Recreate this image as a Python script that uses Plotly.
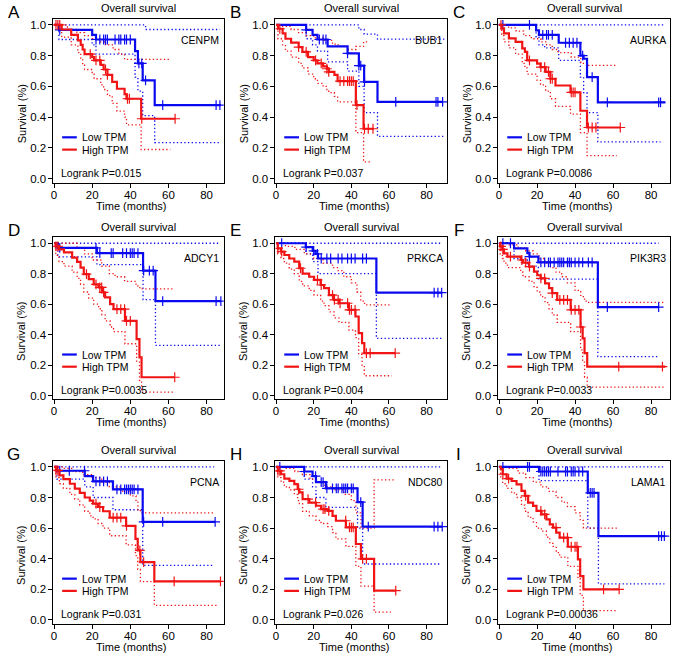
import plotly.graph_objects as go

# ---------------- data ----------------
genes = ["CENPM", "BUB1", "AURKA", "ADCY1", "PRKCA", "PIK3R3", "PCNA", "NDC80", "LAMA1"]
letters = ["A", "B", "C", "D", "E", "F", "G", "H", "I"]
pvalues = ["0.015", "0.037", "0.0086", "0.0035", "0.004", "0.0033", "0.031", "0.026", "0.00036"]
x_ticks = [0, 20, 40, 60, 80]
y_ticks = [0.0, 0.2, 0.4, 0.6, 0.8, 1.0]

# each curve: [time, survival] step points (value holds from that time on)
A_low = [[0,1],[2.6,0.967],[20,0.935],[22,0.905],[42.5,0.83],[44,0.75],[46.5,0.64],[52.8,0.478],[87.5,0.478]]
A_low_up = [[0,1],[48,0.97],[87,0.97]]
A_low_lo = [[0,1],[2.6,0.905],[20,0.87],[22,0.81],[42.5,0.66],[44,0.57],[46.5,0.41],[52.8,0.235],[87,0.235]]
A_low_cens = [3,22,24,26,27,28,32,34,35,37,38,40,44.5,46,48,57,85,87]
A_high = [[0,1],[4,0.97],[9,0.935],[12.5,0.9],[14,0.87],[15,0.84],[16,0.81],[20,0.79],[21,0.77],[24.5,0.74],[26,0.71],[28,0.675],[30.5,0.63],[33,0.585],[37,0.55],[38,0.52],[45.7,0.39],[63.5,0.39]]
A_high_up = [[0,1],[7,0.97],[12,0.95],[16,0.93],[20,0.91],[24,0.89],[27,0.87],[31,0.84],[34,0.81],[37,0.776],[60.5,0.776]]
A_high_lo = [[0,1],[4,0.92],[9,0.87],[12.5,0.82],[14,0.78],[15,0.74],[16,0.71],[20,0.68],[21,0.65],[24.5,0.61],[26,0.58],[28,0.54],[30.5,0.49],[33,0.44],[37,0.4],[38,0.35],[45.7,0.19],[61,0.19]]
A_high_cens = [1,2,3,19,22,24,27,28,38.5,39.5,46,63.5]

B_low = [[0,1],[16,0.967],[19.4,0.935],[22,0.905],[27.4,0.86],[38,0.815],[44,0.735],[46.8,0.63],[53.9,0.5],[88.5,0.5]]
B_low_up = [[0,1],[44,0.97],[46.8,0.94],[53.9,0.907],[90,0.907]]
B_low_lo = [[0,1],[16,0.91],[19.4,0.87],[22,0.83],[27.4,0.76],[38,0.7],[44,0.6],[46.8,0.43],[53.9,0.275],[90,0.275]]
B_low_cens = [16,23,25,26.5,38,44,45,47,63.6,85,86,88.5]
B_high = [[0,1],[1,0.975],[3.5,0.945],[5,0.91],[8,0.885],[12,0.855],[14,0.825],[17,0.79],[20,0.77],[22,0.75],[25,0.73],[27,0.715],[28,0.695],[31,0.675],[32.7,0.635],[42.4,0.478],[46.5,0.325],[52,0.325]]
B_high_up = [[0,1],[3,0.99],[8,0.97],[12,0.95],[16,0.93],[20,0.915],[25,0.9],[30,0.875],[33,0.86],[38,0.84],[42.4,0.86],[46.5,0.89],[49.5,0.89]]
B_high_lo = [[0,1],[1,0.91],[3.5,0.87],[5,0.83],[8,0.79],[12,0.75],[14,0.72],[17,0.68],[20,0.65],[22,0.62],[25,0.6],[27,0.58],[28,0.56],[31,0.535],[32.7,0.5],[42.4,0.3],[46.5,0.11],[50,0.11]]
B_high_cens = [2,12,16,21,24,27,28,34,36,38,39,40,41,43,47,49,51.5]

C_low = [[0,1],[19.5,0.965],[21,0.935],[31.4,0.884],[42.8,0.8],[44.5,0.78],[46.3,0.66],[52,0.497],[87.5,0.497]]
C_low_up = [[0,1],[87,1]]
C_low_lo = [[0,1],[19.5,0.92],[21,0.87],[24,0.85],[31.4,0.77],[42.8,0.66],[44.5,0.56],[46.3,0.43],[52,0.24],[85,0.24]]
C_low_cens = [2,16,23,25,26,28,35,37,39,41,44,49,57,84,85]
C_high = [[0,1],[1.4,0.978],[2.6,0.945],[5.2,0.912],[8.7,0.89],[12.2,0.847],[13.6,0.825],[14.8,0.77],[20,0.748],[21.8,0.726],[24.5,0.694],[27,0.65],[29.7,0.606],[37.6,0.562],[42.8,0.442],[46.3,0.333],[63.8,0.333]]
C_high_up = [[0,1],[5,0.98],[9,0.96],[13,0.93],[17,0.91],[22,0.89],[25,0.87],[28,0.84],[31,0.82],[38,0.79],[43,0.75],[46.3,0.737],[62,0.737]]
C_high_lo = [[0,1],[1.4,0.93],[2.6,0.89],[5.2,0.85],[8.7,0.81],[12.2,0.75],[13.6,0.72],[14.8,0.68],[20,0.64],[21.8,0.61],[24.5,0.57],[27,0.52],[29.7,0.47],[37.6,0.42],[42.8,0.3],[46.3,0.15],[62,0.15]]
C_high_cens = [1,16,22,24,26,27,28,38,39,40,47,49,51,63.8]

D_low = [[0,1],[2,0.97],[22.5,0.935],[46.7,0.82],[53.2,0.62],[87.5,0.62]]
D_low_up = [[0,1],[87,1]]
D_low_lo = [[0,1],[2,0.91],[22.5,0.86],[46.7,0.63],[53.2,0.33],[87,0.33]]
D_low_cens = [3,22,24,30,31,36,38,40,41,42,44,47,50,52,57,85,87.5]
D_high = [[0,1],[0.9,0.98],[2.6,0.96],[5.2,0.94],[9.5,0.906],[12.1,0.878],[13.9,0.84],[15.6,0.797],[18.2,0.764],[20.8,0.73],[23.4,0.71],[25.1,0.677],[26.8,0.644],[29.4,0.6],[31.2,0.568],[37.2,0.49],[43.3,0.37],[44.8,0.25],[45.9,0.12],[63.3,0.12]]
D_high_up = [[0,1],[12,0.97],[16,0.93],[20,0.89],[25,0.85],[29,0.8],[32,0.78],[37,0.75],[43,0.72],[45,0.7],[63,0.7]]
D_high_lo = [[0,1],[0.9,0.92],[2.6,0.88],[5.2,0.85],[9.5,0.81],[12.1,0.77],[13.9,0.73],[15.6,0.68],[18.2,0.64],[20.8,0.6],[23.4,0.57],[25.1,0.53],[26.8,0.49],[29.4,0.45],[31.2,0.42],[37.2,0.34],[43.3,0.22],[44.8,0.1],[45.9,0.022],[63,0.022]]
D_high_cens = [1,2,17,22,24,25,26,33,35,37,38,40,63.3]

E_low = [[0,1],[15.8,0.975],[19.5,0.95],[21,0.93],[22.3,0.9],[53.3,0.676],[88,0.676]]
E_low_up = [[0,1],[88,1]]
E_low_lo = [[0,1],[15.8,0.93],[19.5,0.88],[22.3,0.8],[53.3,0.376],[88,0.376]]
E_low_cens = [3,16,20,22,24,27,29,33,35,38,40,42,46,48,84,86,88]
E_high = [[0,1],[0.9,0.967],[2.6,0.945],[4.4,0.923],[7,0.9],[9.7,0.88],[12.3,0.836],[14.1,0.8],[17.6,0.78],[20.2,0.76],[23.7,0.726],[25.5,0.705],[28.1,0.66],[30.8,0.628],[33.4,0.606],[38.7,0.562],[42.2,0.519],[43.9,0.41],[45.7,0.344],[46.9,0.278],[63.3,0.278]]
E_high_up = [[0,1],[5,0.98],[10,0.96],[15,0.93],[20,0.9],[25,0.87],[30,0.84],[33,0.82],[36,0.78],[40,0.74],[43,0.68],[45,0.62],[47,0.595],[60.5,0.595]]
E_high_lo = [[0,1],[0.9,0.93],[2.6,0.9],[4.4,0.87],[7,0.83],[9.7,0.8],[12.3,0.75],[14.1,0.72],[17.6,0.69],[20.2,0.66],[23.7,0.62],[25.5,0.59],[28.1,0.55],[30.8,0.51],[33.4,0.48],[38.7,0.43],[42.2,0.38],[43.9,0.27],[45.7,0.2],[46.9,0.13],[61.5,0.13]]
E_high_cens = [1,3,13,22,24,30,31,33,34,38,39,40,42,48,50,63.3]

F_low = [[0,1],[7.9,0.967],[14.9,0.935],[16,0.912],[20.7,0.875],[52,0.58],[84,0.58]]
F_low_up = [[0,1],[84,1]]
F_low_lo = [[0,1],[7.9,0.9],[14.9,0.85],[20.7,0.765],[52,0.256],[84,0.256]]
F_low_cens = [2,6,16,22,24,26,27,29,31,32,33,34,36,37,38,40,42,44,47,49,57,84]
F_high = [[0,1],[0.5,0.98],[1.75,0.96],[2.6,0.934],[4.4,0.912],[11.4,0.89],[12.6,0.873],[15.8,0.847],[18.4,0.814],[20.1,0.79],[21.9,0.77],[24.2,0.737],[26.3,0.705],[28,0.672],[30.6,0.628],[37.7,0.562],[42.9,0.45],[44,0.376],[45,0.278],[46.4,0.19],[87.5,0.19]]
F_high_up = [[0,1],[5,0.99],[10,0.97],[14,0.95],[18,0.93],[21,0.9],[24,0.87],[27,0.84],[30,0.81],[33,0.78],[36,0.74],[40,0.69],[43,0.65],[45,0.62],[46.4,0.612],[87,0.612]]
F_high_lo = [[0,1],[0.5,0.93],[1.75,0.9],[2.6,0.87],[4.4,0.84],[11.4,0.81],[12.6,0.78],[15.8,0.75],[18.4,0.71],[20.1,0.68],[21.9,0.65],[24.2,0.61],[26.3,0.57],[28,0.53],[30.6,0.48],[37.7,0.42],[42.9,0.3],[44,0.22],[45,0.12],[46.4,0.055],[87,0.055]]
F_high_cens = [1,2,6,12,14,16,22,24,28,32,34,36,38,40,42,43,63,86]

G_low = [[0,1],[1.5,0.975],[16.1,0.94],[20.5,0.905],[30.9,0.853],[46.5,0.64],[84.5,0.64]]
G_low_up = [[0,1],[84,1]]
G_low_lo = [[0,1],[1.5,0.92],[16.1,0.87],[20.5,0.8],[30.9,0.72],[46.5,0.356],[84,0.356]]
G_low_cens = [3,8,16,22,24,26,28,33,35,37,38,39,40,41,42,44,47,57,84.5]
G_high = [[0,1],[1,0.978],[2.8,0.945],[4.9,0.92],[8.3,0.89],[10.9,0.858],[13.5,0.83],[16.1,0.8],[18.75,0.78],[20.5,0.76],[23.1,0.738],[25.7,0.71],[29.2,0.668],[37.8,0.614],[42.7,0.53],[43.9,0.454],[45.3,0.378],[52.6,0.251],[87.3,0.251]]
G_high_up = [[0,1],[5,0.99],[10,0.97],[15,0.95],[20,0.93],[25,0.9],[29,0.87],[35,0.84],[40,0.81],[43,0.77],[44,0.72],[45.3,0.7],[84,0.7]]
G_high_lo = [[0,1],[1,0.93],[2.8,0.89],[4.9,0.86],[8.3,0.82],[10.9,0.79],[13.5,0.75],[16.1,0.71],[18.75,0.68],[20.5,0.66],[23.1,0.63],[25.7,0.6],[29.2,0.55],[37.8,0.49],[42.7,0.42],[43.9,0.33],[45.3,0.25],[52.6,0.094],[86,0.094]]
G_high_cens = [1,2,22,24,31,33,35,38,45,47,63,87.3]

H_low = [[0,1],[15,0.97],[19.4,0.94],[21.2,0.9],[26.5,0.86],[43.3,0.77],[46,0.61],[88.3,0.61]]
H_low_up = [[0,1],[88,1]]
H_low_lo = [[0,1],[15,0.92],[19.4,0.87],[21.2,0.8],[26.5,0.735],[43.3,0.6],[46,0.365],[88,0.365]]
H_low_cens = [2,15,21,24,25,27,30,32,33,35,36,37,38,40,41,45,49,84,86,88.3]
H_high = [[0,1],[0.9,0.974],[2.65,0.952],[4.4,0.924],[7.1,0.909],[9.7,0.887],[11.5,0.854],[12.4,0.833],[14.1,0.79],[17.7,0.767],[21.2,0.746],[23.9,0.724],[27.4,0.713],[30,0.68],[31.8,0.648],[37.1,0.604],[42.4,0.496],[45.1,0.398],[52.1,0.191],[63.6,0.191]]
H_high_up = [[0,1],[5,0.99],[10,0.97],[14,0.95],[18,0.92],[22,0.9],[26,0.87],[30,0.85],[36,0.82],[40,0.78],[42.4,0.7],[45.1,0.6],[52.1,0.915],[62.7,0.915]]
H_high_lo = [[0,1],[0.9,0.93],[2.65,0.9],[4.4,0.87],[7.1,0.85],[9.7,0.82],[11.5,0.78],[12.4,0.76],[14.1,0.71],[17.7,0.68],[21.2,0.65],[23.9,0.63],[27.4,0.61],[30,0.57],[31.8,0.53],[37.1,0.48],[42.4,0.35],[45.1,0.22],[52.1,0.05],[61,0.05]]
H_high_cens = [1,2,12,17,21,25,26,28,37,39,40,41,46,48,63.6]

I_low = [[0,1],[21,0.97],[46.7,0.83],[52.3,0.548],[87,0.548]]
I_low_up = [[0,1],[87,1]]
I_low_lo = [[0,1],[21,0.91],[46.7,0.6],[52.3,0.235],[87,0.235]]
I_low_cens = [2,15,16,22,23,24,25,26,27,31,35,36,38,39,40,42,44,48,49,50,84,85.5,87]
I_high = [[0,1],[0.9,0.985],[1.9,0.952],[4,0.924],[6.6,0.908],[9.2,0.886],[11.8,0.843],[13.6,0.81],[15.3,0.766],[17.9,0.745],[19.7,0.712],[22.3,0.69],[24.9,0.657],[26.7,0.624],[28.4,0.603],[30.1,0.57],[31.9,0.537],[36.2,0.478],[41.5,0.395],[42.7,0.286],[44.4,0.199],[63.2,0.199]]
I_high_up = [[0,1],[5,0.99],[10,0.96],[14,0.93],[18,0.9],[22,0.87],[26,0.84],[30,0.8],[33,0.77],[36,0.74],[40,0.7],[42.7,0.65],[44.4,0.6],[63,0.6]]
I_high_lo = [[0,1],[0.9,0.93],[1.9,0.89],[4,0.86],[6.6,0.83],[9.2,0.8],[11.8,0.75],[13.6,0.71],[15.3,0.67],[17.9,0.64],[19.7,0.6],[22.3,0.58],[24.9,0.54],[26.7,0.5],[28.4,0.48],[30.1,0.44],[31.9,0.41],[36.2,0.35],[41.5,0.27],[42.7,0.16],[44.4,0.06],[62,0.06]]
I_high_cens = [2,5,14,22,24,30,34,36,38,40,41,55,63.2]

panels = [
    (A_low, A_low_up, A_low_lo, A_low_cens, A_high, A_high_up, A_high_lo, A_high_cens),
    (B_low, B_low_up, B_low_lo, B_low_cens, B_high, B_high_up, B_high_lo, B_high_cens),
    (C_low, C_low_up, C_low_lo, C_low_cens, C_high, C_high_up, C_high_lo, C_high_cens),
    (D_low, D_low_up, D_low_lo, D_low_cens, D_high, D_high_up, D_high_lo, D_high_cens),
    (E_low, E_low_up, E_low_lo, E_low_cens, E_high, E_high_up, E_high_lo, E_high_cens),
    (F_low, F_low_up, F_low_lo, F_low_cens, F_high, F_high_up, F_high_lo, F_high_cens),
    (G_low, G_low_up, G_low_lo, G_low_cens, G_high, G_high_up, G_high_lo, G_high_cens),
    (H_low, H_low_up, H_low_lo, H_low_cens, H_high, H_high_up, H_high_lo, H_high_cens),
    (I_low, I_low_up, I_low_lo, I_low_cens, I_high, I_high_up, I_high_lo, I_high_cens),
]

# ---------------- layout geometry ----------------
W, H = 677, 661
BLUE = "#0A0AF0"
RED = "#F01414"
FONT = "Liberation Sans, Arial, sans-serif"

col_left = [50.7, 273.7, 497.7]
col_right = [221.7, 446.3, 670.4]
col_xmax = [89.0, 91.0, 90.2]
row_top = [18.8, 237.9, 462.2]
row_bot = [183.3, 400.7, 625.7]


def px(x):
    return x / W


def py(y):
    return 1 - y / H


def surv_at(curve, t):
    s = curve[0][1]
    for tt, ss in curve:
        if tt <= t:
            s = ss
    return s


fig = go.Figure()
layout = {}
annotations = []
shapes = []

for i, (lo_m, lo_u, lo_l, lo_c, hi_m, hi_u, hi_l, hi_c) in enumerate(panels):
    r, c = divmod(i, 3)
    n = "" if i == 0 else str(i + 1)
    xa, ya = "x" + n, "y" + n
    # CI dotted lines
    for curve, col in [(lo_u, BLUE), (lo_l, BLUE), (hi_u, RED), (hi_l, RED)]:
        fig.add_trace(go.Scatter(
            x=[p[0] for p in curve], y=[p[1] for p in curve], mode="lines",
            line=dict(color=col, width=1.3, dash="1.3px,2.4px", shape="hv"),
            xaxis=xa, yaxis=ya, showlegend=False, hoverinfo="skip"))
    # main curves + censor marks
    for curve, cens, col in [(lo_m, lo_c, BLUE), (hi_m, hi_c, RED)]:
        fig.add_trace(go.Scatter(
            x=[p[0] for p in curve], y=[p[1] for p in curve], mode="lines",
            line=dict(color=col, width=2.2, shape="hv"),
            xaxis=xa, yaxis=ya, showlegend=False))
        fig.add_trace(go.Scatter(
            x=cens, y=[surv_at(curve, t) for t in cens], mode="markers",
            marker=dict(symbol="cross-thin", size=7, color=col,
                        line=dict(color=col, width=1.2)),
            xaxis=xa, yaxis=ya, showlegend=False))

    axis_common = dict(
        showline=True, linecolor="black", linewidth=1, mirror=True,
        ticks="outside", ticklen=4, tickwidth=1, tickcolor="black",
        showgrid=False, zeroline=False,
        tickfont=dict(family=FONT, size=11.5, color="black"))
    layout["xaxis" + n] = dict(
        axis_common, domain=[px(col_left[c]), px(col_right[c])],
        range=[-0.3, col_xmax[c]], tickvals=x_ticks, anchor=ya,
        ticklabelstandoff=-3)
    layout["yaxis" + n] = dict(
        axis_common, domain=[py(row_bot[r]), py(row_top[r])],
        range=[-0.026, 1.04], tickvals=y_ticks,
        ticktext=[f"{v:.1f}" for v in y_ticks], anchor=xa)

    xd, yd = xa + " domain", ya + " domain"
    # legend lines + text
    for yy, col, label in [(0.277, BLUE, "Low TPM"), (0.202, RED, "High TPM")]:
        shapes.append(dict(type="line", xref=xd, yref=yd, x0=0.051, x1=0.137,
                           y0=yy, y1=yy, line=dict(color=col, width=2.2)))
        annotations.append(dict(xref=xd, yref=yd, x=0.153, y=yy, text=label,
                                showarrow=False, xanchor="left", yanchor="middle",
                                font=dict(family=FONT, size=10.5, color="black")))
    annotations.append(dict(xref=xd, yref=yd, x=0.031, y=0.058,
                            text="Logrank P=" + pvalues[i], showarrow=False,
                            xanchor="left", yanchor="middle",
                            font=dict(family=FONT, size=10.5, color="black")))
    annotations.append(dict(xref=xd, yref=yd, x=0.986, y=0.87, text=genes[i],
                            showarrow=False, xanchor="right", yanchor="middle",
                            font=dict(family=FONT, size=10.5, color="black")))
    # titles
    cx = (col_left[c] + col_right[c]) / 2
    annotations.append(dict(xref="paper", yref="paper", x=px(cx), y=py(row_top[r] - 10.5),
                            text="Overall survival", showarrow=False,
                            xanchor="center", yanchor="middle",
                            font=dict(family=FONT, size=11, color="black")))
    annotations.append(dict(xref="paper", yref="paper", x=px(col_left[c] - 40),
                            y=py(row_top[r] - 6.5), text=letters[i], showarrow=False,
                            xanchor="center", yanchor="middle",
                            font=dict(family=FONT, size=17, color="black")))
    annotations.append(dict(xref="paper", yref="paper", x=px(cx - 7), y=py(row_bot[r] + 23),
                            text="Time (months)", showarrow=False,
                            xanchor="center", yanchor="middle",
                            font=dict(family=FONT, size=11, color="black")))
    annotations.append(dict(xref="paper", yref="paper", x=px(col_left[c] - 32),
                            y=py((row_top[r] + row_bot[r]) / 2 + 13),
                            text="Survival (%)", textangle=-90, showarrow=False,
                            xanchor="center", yanchor="middle",
                            font=dict(family=FONT, size=11, color="black")))

fig.update_layout(
    width=W, height=H, margin=dict(l=0, r=0, t=0, b=0),
    paper_bgcolor="white", plot_bgcolor="white",
    annotations=annotations, shapes=shapes, **layout)

fig.write_html("out.html", config={"displayModeBar": False},
               post_script="document.body.style.margin='0';")
